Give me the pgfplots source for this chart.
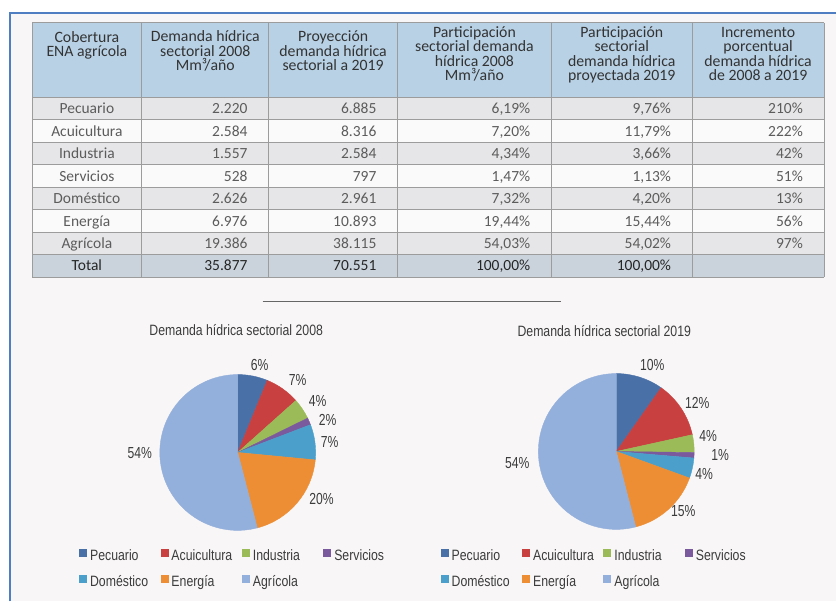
\documentclass[border=0pt]{standalone}
\usepackage{pgfplots}
\usepackage{pgfplotstable}
\pgfplotsset{compat=1.18}
\usepackage{fontspec}
\setmainfont{Carlito}
\newfontfamily\chartfont[FakeStretch=0.82]{Liberation Sans}
\newfontfamily\labfont[FakeStretch=0.76]{Liberation Sans}

% slice colours, numbered as in the tables (column ci)
\definecolor{slice1}{HTML}{4A70A8}% Pecuario
\definecolor{slice2}{HTML}{C8403F}% Acuicultura
\definecolor{slice3}{HTML}{9BBB59}% Industria
\definecolor{slice4}{HTML}{7A5A9C}% Servicios
\definecolor{slice5}{HTML}{4AA0CB}% Domestico
\definecolor{slice6}{HTML}{EE8E34}% Energia
\definecolor{slice7}{HTML}{93AFDB}% Agricola
\definecolor{framec}{HTML}{4F7EC2}
\definecolor{pagebg}{HTML}{F8F6F6}
\definecolor{hdrbg}{HTML}{B8D1E5}
\definecolor{rowgrey}{HTML}{E6E6E8}
\definecolor{rowwhite}{HTML}{FAFAFA}
\definecolor{totbg}{HTML}{CAD3DC}
\definecolor{gridc}{HTML}{9C9C9C}
\definecolor{txt}{HTML}{3C3C3C}

% sector shares (%), centre of the pie, label position, printed label
\pgfplotstableread{
x   y   val   ci  lx  ly  lab
238 453 6.19  1   260 365 6
238 453 7.20  2   298 380 7
238 453 4.34  3   318 401 4
238 453 1.47  4   328 420 2
238 453 7.32  5   330 443 7
238 453 19.44 6   322 500 20
238 453 54.03 7   140 454 54
}\pieA
\pgfplotstableread{
x   y   val   ci  lx  ly  lab
617 452 9.76  1   653 365 10
617 452 11.79 2   698 403 12
617 452 3.66  3   709 437 4
617 452 1.13  4   721 456 1
617 452 4.20  5   705 475 4
617 452 15.44 6   684 512 15
617 452 54.02 7   518 464 54
}\pieB
\pgfplotstablecreatecol[create col/expr accum={\pgfmathaccuma + \thisrow{val}}{0}]{cum}{\pieA}
\pgfplotstablecreatecol[create col/expr accum={\pgfmathaccuma + \thisrow{val}}{0}]{cum}{\pieB}

\pgfplotsset{
  canvas/.style={at={(0pt,0pt)}, anchor=south west, scale only axis,
    width=837pt, height=602pt, xmin=0, xmax=837, ymin=0, ymax=602,
    y dir=reverse, hide axis, clip=false,
    legend columns=4,
    legend style={draw=none, fill=none, inner sep=0pt, anchor=north west,
      font=\chartfont\fontsize{15}{17}\selectfont, text=txt,
      nodes={inner sep=0pt, text height=10pt, text depth=3pt},
      row sep=12pt,
      /tikz/every odd column/.append style={column sep=3pt}}},
  sq/.style={fill=#1, draw=none,
    legend image code/.code={\fill[##1] (0pt,-0.5pt) rectangle (8pt,7.5pt);}},
  wedges/.style={scatter, only marks, mark=*, mark size=0pt, forget plot,
    visualization depends on={\thisrow{val} \as \pval},
    visualization depends on={\thisrow{cum} \as \pcum},
    visualization depends on={\thisrow{ci} \as \pci},
    scatter/@pre marker code/.code={%
      \pgfmathsetmacro\angA{90-3.6*(\pcum-\pval)}%
      \pgfmathsetmacro\angB{90-3.6*\pcum}%
      \pgfmathtruncatemacro\cidx{round(\pci)}%
      \fill[slice\cidx] (0pt,0pt) -- (\angA:78pt)
        arc[start angle=\angA, end angle=\angB, radius=78pt] -- cycle;
      \begin{scope}[opacity=0]},
    scatter/@post marker code/.code={\end{scope}}},
  pielabels/.style={only marks, mark=none, forget plot,
    point meta=explicit symbolic,
    nodes near coords={\pgfplotspointmeta\%},
    nodes near coords style={anchor=center, inner sep=0pt, text=txt,
      font=\labfont\fontsize{16}{18}\selectfont}},
}
\newcommand\lgx[1]{\makebox[70.5pt][l]{#1}}

\begin{document}
\begin{tikzpicture}
\begin{scope}[x=1pt, y=-1pt, shift={(0pt,602pt)},
    every node/.style={inner sep=0pt, text=txt}]
  \fill[white] (0,0) rectangle (837,602);
  \fill[pagebg] (10,13) rectangle (837,602);
  \draw[framec, line width=2pt] (10,602) -- (10,13) -- (837,13);
  % table background
  \fill[hdrbg] (32,22.7) rectangle (825,97.3);
  \foreach \k in {0,...,6}{
    \pgfmathsetmacro\ytop{97.3+22.5*\k}
    \pgfmathtruncatemacro\odd{mod(\k,2)}
    \ifnum\odd=0 \def\rc{rowgrey}\else\def\rc{rowwhite}\fi
    \fill[\rc] (32,\ytop) rectangle (825,\ytop+22.5);
  }
  \fill[totbg] (32,254.8) rectangle (825,277.3);
  \foreach \xx in {32,142,269,398,552,693,825}
    \draw[gridc, line width=0.8pt] (\xx,22.7) -- (\xx,277.3);
  \foreach \yy in {22.7,97.3,119.8,142.3,164.8,187.3,209.8,232.3,254.8,277.3}
    \draw[gridc, line width=0.8pt] (32,\yy) -- (825,\yy);
  % header
  \begin{scope}[every node/.style={inner sep=0pt, text=black!80, anchor=base,
      font=\fontsize{15.8}{16}\selectfont}]
    \node at (87,42.5) {Cobertura};
    \node at (87,57) {ENA agrícola};
    \node at (205.5,42) {Demanda hídrica};
    \node at (205.5,56.5) {sectorial 2008};
    \node at (205.5,71) {Mm³/año};
    \node at (333.5,42) {Proyección};
    \node at (333.5,56.5) {demanda hídrica};
    \node at (333.5,71) {sectorial a 2019};
    \node at (475,37.7) {Participación};
    \node at (475,51.9) {sectorial demanda};
    \node at (475,66.1) {hídrica 2008};
    \node at (475,80.3) {Mm³/año};
    \node at (622.5,37.7) {Participación};
    \node at (622.5,51.9) {sectorial};
    \node at (622.5,66.1) {demanda hídrica};
    \node at (622.5,80.3) {proyectada 2019};
    \node at (759,37.7) {Incremento};
    \node at (759,51.9) {porcentual};
    \node at (759,66.1) {demanda hídrica};
    \node at (759,80.3) {de 2008 a 2019};
  \end{scope}
  % body
  \begin{scope}[every node/.style={inner sep=0pt, text=black!64,
      font=\fontsize{15.5}{17}\selectfont}]
  \foreach \k/\n/\a/\b/\c/\d/\e in {
    0/Pecuario/2.220/6.885/{6,19\%}/{9,76\%}/210\%,
    1/Acuicultura/2.584/8.316/{7,20\%}/{11,79\%}/222\%,
    2/Industria/1.557/2.584/{4,34\%}/{3,66\%}/42\%,
    3/Servicios/528/797/{1,47\%}/{1,13\%}/51\%,
    4/Doméstico/2.626/2.961/{7,32\%}/{4,20\%}/13\%,
    5/Energía/6.976/10.893/{19,44\%}/{15,44\%}/56\%,
    6/Agrícola/19.386/38.115/{54,03\%}/{54,02\%}/97\%}{
    \pgfmathsetmacro\yb{113.8+22.5*\k}
    \node[anchor=base] at (87,\yb) {\n};
    \node[anchor=base east] at (248,\yb) {\a};
    \node[anchor=base east] at (377,\yb) {\b};
    \node[anchor=base east] at (531,\yb) {\c};
    \node[anchor=base east] at (672,\yb) {\d};
    \node[anchor=base east] at (804,\yb) {\e};
  }
  \end{scope}
  \begin{scope}[every node/.style={inner sep=0pt, text=black!85,
      font=\fontsize{15.5}{17}\selectfont}]
    \node[anchor=base] at (87,271.3) {Total};
    \node[anchor=base east] at (248,271.3) {35.877};
    \node[anchor=base east] at (377,271.3) {70.551};
    \node[anchor=base east] at (531,271.3) {100,00\%};
    \node[anchor=base east] at (672,271.3) {100,00\%};
  \end{scope}
  \draw[black!60, line width=1.2pt] (263,302) -- (562,302);
\end{scope}

\begin{axis}[canvas, legend style={at={(axis cs:79,549.5)}}]
  \addplot[wedges] table[x=x, y=y] {\pieA};
  \addplot[pielabels] table[x=lx, y=ly, meta=lab] {\pieA};
  \node[anchor=base, inner sep=0pt, text=txt, font=\chartfont\fontsize{15}{17}\selectfont]
    at (axis cs:236.5,336) {Demanda hídrica sectorial 2008};
  \addlegendimage{sq=slice1}
  \addlegendimage{sq=slice2}
  \addlegendimage{sq=slice3}
  \addlegendimage{sq=slice4}
  \addlegendimage{sq=slice5}
  \addlegendimage{sq=slice6}
  \addlegendimage{sq=slice7}
  \legend{\lgx{Pecuario},\lgx{Acuicultura},\lgx{Industria},\lgx{Servicios},
    \lgx{Doméstico},\lgx{Energía},\lgx{Agrícola}}
\end{axis}

\begin{axis}[canvas, legend style={at={(axis cs:441,549.5)}}]
  \addplot[wedges] table[x=x, y=y] {\pieB};
  \addplot[pielabels] table[x=lx, y=ly, meta=lab] {\pieB};
  \node[anchor=base, inner sep=0pt, text=txt, font=\chartfont\fontsize{15}{17}\selectfont]
    at (axis cs:605,337) {Demanda hídrica sectorial 2019};
  \addlegendimage{sq=slice1}
  \addlegendimage{sq=slice2}
  \addlegendimage{sq=slice3}
  \addlegendimage{sq=slice4}
  \addlegendimage{sq=slice5}
  \addlegendimage{sq=slice6}
  \addlegendimage{sq=slice7}
  \legend{\lgx{Pecuario},\lgx{Acuicultura},\lgx{Industria},\lgx{Servicios},
    \lgx{Doméstico},\lgx{Energía},\lgx{Agrícola}}
\end{axis}
\end{tikzpicture}
\end{document}
